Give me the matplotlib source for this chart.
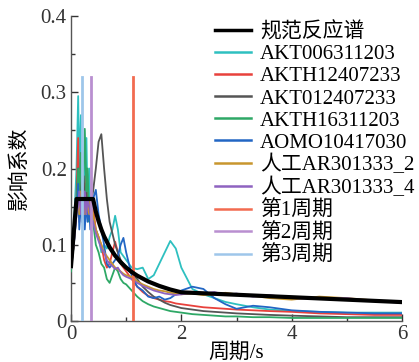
import matplotlib
matplotlib.use("Agg")
import matplotlib.pyplot as plt
from matplotlib.ticker import MultipleLocator

LATIN = 'Liberation Serif'
MIXED = ['Liberation Serif', 'Noto Sans CJK SC']
plt.rcParams['font.family'] = MIXED

# Code design spectrum (规范反应谱)
spec_T = [0, 0.1, 0.4, 0.45, 0.5, 0.55, 0.6, 0.7, 0.8, 0.9, 1.0, 1.1, 1.2, 1.4, 1.6, 1.8, 2.0, 6.0]
spec_v = [0.072, 0.16, 0.16, 0.1435, 0.1309, 0.1201, 0.1111, 0.0967, 0.0857, 0.0771, 0.0701,
          0.0643, 0.0595, 0.0518, 0.0460, 0.0413, 0.0376, 0.0248]

# Common period grid for the record spectra
T = [0, 0.05, 0.1, 0.13, 0.15, 0.18, 0.2, 0.23, 0.25, 0.28, 0.3, 0.33, 0.35, 0.4, 0.45,
     0.5, 0.55, 0.6, 0.65, 0.7, 0.75, 0.8, 0.85, 0.9, 0.95, 1.0, 1.1, 1.2, 1.3, 1.4, 1.5,
     1.6, 1.7, 1.8, 1.9, 2.0, 2.2, 2.4, 2.6, 2.8, 3.0, 3.3, 3.6, 4.0, 4.5, 5.0, 5.5, 6.0]

akt006 = [0.07, 0.12, 0.2, 0.295, 0.2, 0.27, 0.15, 0.22, 0.18, 0.24, 0.15, 0.2, 0.14, 0.13, 0.12,
          0.11, 0.09, 0.1, 0.095, 0.11, 0.12, 0.138, 0.12, 0.09, 0.085, 0.08, 0.07, 0.068, 0.07,
          0.055, 0.06, 0.075, 0.09, 0.105, 0.095, 0.07, 0.042, 0.035, 0.03, 0.025, 0.022, 0.018,
          0.015, 0.013, 0.012, 0.011, 0.011, 0.011]
akth124 = [0.07, 0.1, 0.16, 0.24, 0.13, 0.2, 0.13, 0.18, 0.14, 0.2, 0.15, 0.14, 0.13, 0.15, 0.12,
           0.11, 0.1, 0.08, 0.07, 0.075, 0.09, 0.104, 0.09, 0.075, 0.07, 0.065, 0.055, 0.045, 0.038,
           0.033, 0.03, 0.028, 0.026, 0.025, 0.023, 0.022, 0.02, 0.018, 0.017, 0.016, 0.015, 0.014,
           0.013, 0.012, 0.01, 0.009, 0.008, 0.008]
akt012 = [0.07, 0.11, 0.15, 0.2, 0.14, 0.22, 0.16, 0.19, 0.15, 0.18, 0.14, 0.16, 0.15, 0.17, 0.2,
          0.235, 0.245, 0.2, 0.16, 0.13, 0.115, 0.1, 0.09, 0.08, 0.075, 0.07, 0.062, 0.055, 0.045,
          0.038, 0.032, 0.028, 0.024, 0.021, 0.019, 0.017, 0.015, 0.013, 0.012, 0.011, 0.01, 0.009,
          0.008, 0.007, 0.006, 0.005, 0.005, 0.005]
akth163 = [0.065, 0.1, 0.15, 0.2, 0.16, 0.22, 0.17, 0.2, 0.252, 0.17, 0.2, 0.13, 0.15, 0.13, 0.1,
           0.09, 0.075, 0.07, 0.055, 0.05, 0.06, 0.07, 0.065, 0.055, 0.05, 0.048, 0.04, 0.032, 0.026,
           0.022, 0.019, 0.017, 0.015, 0.013, 0.012, 0.011, 0.009, 0.008, 0.007, 0.006, 0.006, 0.005,
           0.005, 0.004, 0.004, 0.004, 0.004, 0.004]
aomo = [0.07, 0.1, 0.14, 0.18, 0.12, 0.16, 0.13, 0.15, 0.12, 0.16, 0.13, 0.15, 0.12, 0.16, 0.172,
        0.14, 0.12, 0.1, 0.075, 0.07, 0.075, 0.08, 0.085, 0.1, 0.109, 0.09, 0.06, 0.045, 0.04,
        0.032, 0.03, 0.032, 0.028, 0.03, 0.035, 0.04, 0.045, 0.042, 0.03, 0.022, 0.016, 0.02,
        0.018, 0.014, 0.012, 0.011, 0.01, 0.01]
ar2 = [0.07, 0.1, 0.15, 0.16, 0.14, 0.17, 0.15, 0.16, 0.14, 0.16, 0.15, 0.14, 0.16, 0.14, 0.12,
       0.11, 0.1, 0.09, 0.085, 0.08, 0.075, 0.07, 0.068, 0.065, 0.062, 0.06, 0.058, 0.052, 0.048,
       0.045, 0.042, 0.04, 0.039, 0.037, 0.036, 0.035, 0.036, 0.034, 0.035, 0.037, 0.035, 0.033,
       0.03, 0.028, 0.032, 0.03, 0.027, 0.024]
ar4 = [0.07, 0.1, 0.14, 0.15, 0.17, 0.14, 0.16, 0.14, 0.17, 0.14, 0.16, 0.15, 0.14, 0.13, 0.115,
       0.105, 0.095, 0.09, 0.08, 0.075, 0.072, 0.068, 0.07, 0.064, 0.06, 0.058, 0.055, 0.05, 0.046,
       0.043, 0.04, 0.038, 0.036, 0.035, 0.034, 0.035, 0.037, 0.036, 0.038, 0.034, 0.036, 0.032,
       0.034, 0.03, 0.029, 0.03, 0.026, 0.024]

records = [
    ("AKT006311203", akt006, "#2ec0c0"),
    ("AKTH12407233", akth124, "#e8413c"),
    ("AKT012407233", akt012, "#555555"),
    ("AKTH16311203", akth163, "#2ea866"),
    ("AOMO10417030", aomo, "#2266c4"),
    ("人工AR301333_2", ar2, "#c8962e"),
    ("人工AR301333_4", ar4, "#8e63c0"),
]

period_labels = ["第1周期", "第2周期", "第3周期"]
period_vals = [1.13, 0.36, 0.205]
period_colors = ["#f26b50", "#b98fd0", "#9ec6ea"]
period_top = 0.32

xticks = [0, 2, 4, 6]
xticklabels = ["0", "2", "4", "6"]
yticks = [0, 0.1, 0.2, 0.3, 0.4]
yticklabels = ["0", "0.1", "0.2", "0.3", "0.4"]

fig = plt.figure(figsize=(4.19, 3.62), dpi=100)
ax = fig.add_axes([71/419, 41/362, 331/419, 305/362])

ax.plot(spec_T, spec_v, color="black", lw=3, label="规范反应谱", zorder=10)
for name, vals, c in records:
    ax.plot(T, vals, color=c, lw=1.3, label=name, zorder=3)
for lab, v, c in zip(period_labels, period_vals, period_colors):
    ax.plot([v, v], [0, period_top], color=c, lw=2, label=lab, zorder=4)

ax.set_xlim(0, 6)
ax.set_ylim(0, 0.4)
ax.xaxis.set_minor_locator(MultipleLocator(1))
ax.yaxis.set_minor_locator(MultipleLocator(0.05))
ax.set_xticks(xticks)
ax.set_xticklabels(xticklabels, family=LATIN, fontsize=15)
ax.set_yticks(yticks)
ax.set_yticklabels(yticklabels, family=LATIN, fontsize=15)
ax.tick_params(which='both', direction='in', colors='#333333', width=1)
ax.tick_params(which='major', length=5, pad=3)
ax.tick_params(which='minor', length=3)
for s in ['top', 'right']:
    ax.spines[s].set_visible(False)
for s in ['left', 'bottom']:
    ax.spines[s].set_color('#555555')
    ax.spines[s].set_linewidth(1)

ax.set_xlabel("周期/s", fontsize=15, labelpad=-1, family=MIXED)
ax.set_ylabel("影响系数", fontsize=15, labelpad=8, family=MIXED)

leg = fig.legend(loc='upper left', bbox_to_anchor=(215/419, 1 - 22/362), frameon=False,
                 fontsize=15, borderpad=0, borderaxespad=0, labelspacing=0.12,
                 handlelength=1.75, handletextpad=0.4)
for t in leg.get_texts():
    if any(ord(ch) > 127 for ch in t.get_text()):
        t.set_family(MIXED)
    else:
        t.set_family(LATIN)
for line in leg.get_lines():
    line.set_linewidth(2.5 if line.get_label() == "规范反应谱" else 1.8)

fig.savefig("out.png", dpi=100)
